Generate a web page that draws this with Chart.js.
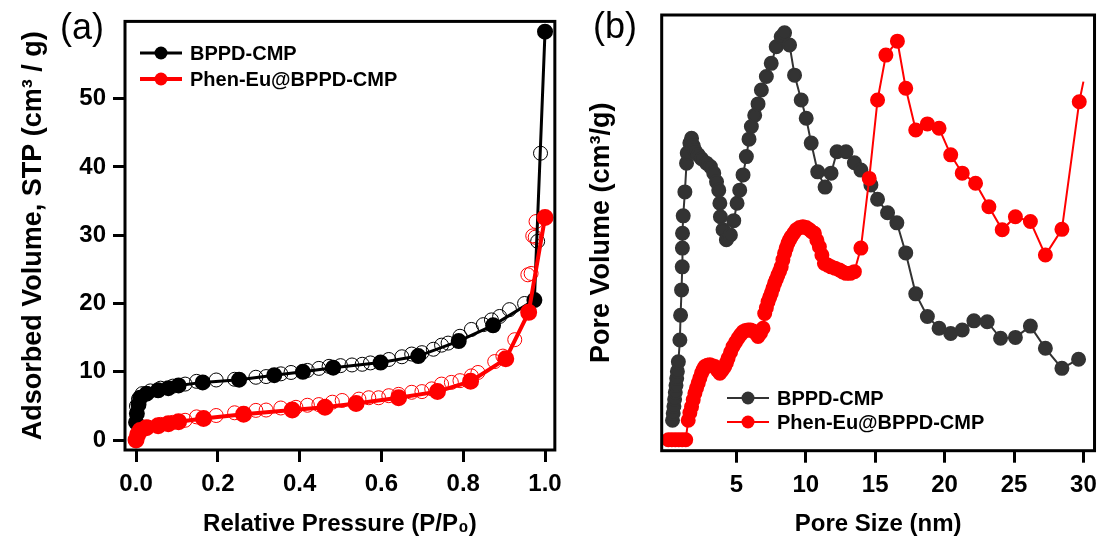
<!DOCTYPE html>
<html lang="en">
<head>
<meta charset="UTF-8">
<title>BPPD-CMP N2 isotherms and pore size distribution</title>
<script src="https://cdn.jsdelivr.net/npm/chart.js@4.4.0/dist/chart.umd.min.js"></script>
<style>
  body { margin: 0; background: #fff; }
  .wrap { position: relative; width: 1105px; height: 552px; }
  #chartA { position: absolute; left: 0; top: 0; }
  #chartB { position: absolute; left: 570px; top: 0; }
</style>
</head>
<body>
<div class="wrap">
  <canvas id="chartA" width="570" height="552"></canvas>
  <canvas id="chartB" width="535" height="552"></canvas>
</div>
<script>
// ---- panel (a): N2 sorption isotherms ----
const pressureTicks = [0, 0.2, 0.4, 0.6, 0.8, 1.0];
const volumeTicks = [0, 10, 20, 30, 40, 50];

// adsorption branch (filled)
const bppdAdsX = [0.0, 0.002, 0.006, 0.010, 0.026, 0.054, 0.079, 0.104, 0.163, 0.252, 0.338, 0.408, 0.482, 0.598, 0.690, 0.789, 0.873, 0.974, 1.0];
const bppdAdsY = [2.6, 3.9, 5.2, 6.2, 6.8, 7.3, 7.6, 8.0, 8.45, 8.85, 9.5, 10.0, 10.6, 11.35, 12.3, 14.5, 16.8, 20.5, 59.8];
const phenAdsX = [0.0, 0.004, 0.010, 0.025, 0.054, 0.079, 0.104, 0.165, 0.263, 0.382, 0.462, 0.538, 0.642, 0.737, 0.818, 0.904, 0.960, 1.0];
const phenAdsY = [0.0, 0.8, 1.4, 1.8, 2.1, 2.4, 2.7, 3.15, 3.8, 4.4, 4.8, 5.35, 6.2, 7.1, 8.6, 11.9, 18.7, 32.6];

// desorption branch (open circles)
const bppdDesX = [0.001, 0.006, 0.015, 0.035, 0.06, 0.09, 0.12, 0.148, 0.196, 0.241, 0.293, 0.318, 0.354, 0.379, 0.419, 0.447, 0.472, 0.500, 0.528, 0.553, 0.573, 0.618, 0.650, 0.674, 0.699, 0.727, 0.747, 0.763, 0.792, 0.820, 0.849, 0.869, 0.889, 0.913, 0.950, 0.982, 0.989];
const bppdDesY = [5.0, 6.0, 6.8, 7.2, 7.6, 7.9, 8.2, 8.6, 8.8, 8.9, 9.2, 9.3, 9.7, 9.9, 10.2, 10.5, 10.8, 10.9, 11.0, 11.1, 11.3, 11.8, 12.2, 12.6, 12.8, 13.3, 13.9, 14.2, 15.2, 16.2, 16.9, 17.6, 18.1, 19.1, 20.0, 29.1, 42.0];
const phenDesX = [0.001, 0.01, 0.03, 0.06, 0.09, 0.12, 0.148, 0.196, 0.241, 0.293, 0.318, 0.354, 0.391, 0.419, 0.447, 0.480, 0.504, 0.545, 0.569, 0.593, 0.618, 0.642, 0.674, 0.699, 0.723, 0.747, 0.771, 0.792, 0.820, 0.836, 0.877, 0.897, 0.926, 0.958, 0.966, 0.970, 0.976, 0.978];
const phenDesY = [0.3, 1.3, 1.9, 2.3, 2.6, 2.9, 3.4, 3.6, 4.0, 4.35, 4.4, 4.7, 4.8, 5.1, 5.2, 5.55, 5.8, 6.0, 6.2, 6.2, 6.5, 6.7, 7.0, 7.1, 7.5, 8.2, 8.45, 8.7, 9.4, 9.9, 11.5, 12.3, 14.7, 24.2, 24.4, 29.9, 29.7, 32.0];

// ---- panel (b): pore size distribution (arbitrary units) ----
const sizeTicks = [5, 10, 15, 20, 25, 30];
const bppdPoreX = [0.40, 0.45, 0.50, 0.55, 0.60, 0.65, 0.70, 0.75, 0.82, 0.93, 0.98, 1.05, 1.10, 1.11, 1.12, 1.17, 1.29, 1.41, 1.46, 1.65, 1.77, 1.89, 2.01, 2.25, 2.49, 2.85, 3.13, 3.37, 3.57, 3.73, 3.81, 3.85, 4.04, 4.28, 4.57, 4.81, 5.05, 5.24, 5.48, 5.72, 5.91, 6.08, 6.32, 6.56, 6.80, 7.16, 7.51, 7.87, 8.23, 8.47, 8.83, 9.19, 9.67, 10.03, 10.39, 10.86, 11.39, 11.82, 12.25, 12.90, 13.50, 13.97, 14.69, 15.17, 15.89, 16.56, 17.20, 17.92, 18.76, 19.60, 20.44, 21.27, 22.11, 23.07, 24.03, 25.10, 26.18, 27.26, 28.45, 29.65];
const bppdPoreY = [7.0, 8.6, 10.2, 11.8, 13.4, 15.0, 16.6, 18.2, 20.4, 25.4, 31.1, 36.9, 42.2, 46.5, 49.9, 53.9, 59.4, 66.0, 68.3, 70.6, 71.7, 70.0, 68.9, 67.9, 67.0, 66.0, 65.2, 63.7, 61.7, 59.8, 56.8, 53.7, 50.7, 48.4, 49.5, 52.8, 56.8, 59.8, 63.3, 67.5, 71.5, 74.4, 77.0, 79.6, 82.8, 85.9, 88.9, 92.7, 95.0, 95.9, 93.1, 86.2, 80.5, 76.3, 70.6, 64.0, 60.5, 63.7, 68.6, 68.6, 66.1, 64.4, 61.0, 57.7, 54.6, 52.3, 45.4, 36.0, 30.8, 28.1, 26.9, 27.7, 29.8, 29.6, 25.8, 26.0, 28.6, 23.5, 18.9, 21.0];
const phenPoreX = [0.10, 0.35, 0.60, 0.85, 1.10, 1.35, 1.53, 1.65, 1.77, 1.89, 2.01, 2.13, 2.25, 2.37, 2.49, 2.61, 2.73, 2.91, 3.09, 3.27, 3.45, 3.63, 3.81, 3.98, 4.16, 4.28, 4.40, 4.58, 4.76, 4.94, 5.12, 5.30, 5.48, 5.66, 5.84, 6.02, 6.20, 6.38, 6.56, 6.74, 6.92, 7.04, 7.16, 7.28, 7.40, 7.51, 7.63, 7.75, 7.87, 7.99, 8.11, 8.23, 8.35, 8.47, 8.59, 8.71, 8.83, 8.95, 9.13, 9.31, 9.55, 9.79, 10.03, 10.27, 10.45, 10.62, 10.80, 10.98, 11.16, 11.34, 11.58, 11.82, 12.10, 12.42, 12.66, 12.90, 13.20, 13.50, 13.97, 14.57, 15.17, 15.77, 16.60, 17.20, 17.92, 18.76, 19.60, 20.44, 21.27, 22.23, 23.19, 24.15, 25.10, 26.18, 27.26, 28.45, 29.70, 30.00];
const phenPoreY = [2.5, 2.5, 2.5, 2.5, 2.5, 2.5, 7.0, 8.7, 10.1, 11.7, 13.2, 14.4, 15.5, 16.7, 17.8, 18.6, 19.3, 19.6, 19.7, 19.5, 19.3, 18.5, 17.8, 18.5, 19.3, 20.2, 21.2, 22.6, 23.9, 24.9, 25.8, 26.6, 27.3, 27.6, 27.7, 27.7, 27.5, 27.0, 26.2, 27.0, 28.1, 31.5, 32.8, 34.2, 35.2, 36.1, 37.3, 38.4, 39.3, 40.3, 41.2, 42.2, 43.8, 45.3, 46.5, 47.6, 48.4, 49.1, 49.9, 50.7, 51.2, 51.4, 51.2, 50.7, 50.2, 49.9, 48.3, 46.8, 44.9, 43.0, 42.6, 42.2, 41.9, 41.5, 41.0, 40.7, 40.7, 41.1, 46.5, 62.5, 80.5, 90.8, 94.0, 83.2, 73.6, 75.0, 74.0, 67.9, 63.7, 61.4, 56.0, 50.7, 53.7, 52.6, 44.9, 50.8, 80.1, 84.7];

const FONT = "'Liberation Sans', Arial, sans-serif";
const RED = '#ff0000';
const DARK = '#333333';

function zip(xs, ys) {
  return xs.map((x, i) => ({ x: x, y: ys[i] }));
}

// frame, panel letter and in-plot legend
const decor = {
  id: 'decor',
  afterDraw(chart, args, opts) {
    const ctx = chart.ctx;
    const a = chart.chartArea;
    ctx.save();
    ctx.strokeStyle = '#000';
    ctx.lineWidth = 3;
    ctx.strokeRect(a.left, a.top, a.right - a.left, a.bottom - a.top);

    ctx.fillStyle = '#000';
    ctx.font = '36px ' + FONT;
    ctx.textAlign = 'center';
    ctx.textBaseline = 'middle';
    ctx.fillText(opts.letter, opts.letterX, opts.letterY);

    ctx.textAlign = 'left';
    ctx.font = 'bold 20px ' + FONT;
    opts.items.forEach((idx, i) => {
      const ds = chart.data.datasets[idx];
      const y = opts.top + i * opts.gap;
      ctx.strokeStyle = ds.borderColor;
      ctx.lineWidth = ds.borderWidth;
      ctx.beginPath();
      ctx.moveTo(opts.left, y);
      ctx.lineTo(opts.left + 42, y);
      ctx.stroke();
      ctx.fillStyle = ds.borderColor;
      ctx.beginPath();
      ctx.arc(opts.left + 21, y, 6.5, 0, Math.PI * 2);
      ctx.fill();
      ctx.fillStyle = '#000';
      ctx.fillText(ds.label, opts.left + 50, y + 1);
    });
    ctx.restore();
  }
};

function xAxis(min, max, tickList, fmt, title, height) {
  return {
    type: 'linear',
    min: min,
    max: max,
    afterBuildTicks: s => { s.ticks = tickList.map(v => ({ value: v })); },
    afterFit: s => { s.height = height; },
    border: { display: false },
    grid: { drawOnChartArea: false, drawTicks: true, tickLength: 12, tickWidth: 3, tickColor: '#000' },
    ticks: { color: '#000', padding: 8, maxRotation: 0, autoSkip: false, font: { family: FONT, size: 24, weight: 'bold' }, callback: fmt },
    title: { display: true, text: title, color: '#000', font: { family: FONT, size: 24, weight: 'bold' }, padding: { top: 0, bottom: 13 } }
  };
}

const common = {
  responsive: false,
  animation: false,
  events: [],
  plugins: { legend: { display: false }, tooltip: { enabled: false } }
};

new Chart(document.getElementById('chartA'), {
  type: 'line',
  data: {
    datasets: [
      { label: 'Phen-Eu@BPPD-CMP', data: zip(phenAdsX, phenAdsY), borderColor: RED, borderWidth: 4, pointRadius: 6.5, pointBackgroundColor: RED, pointBorderColor: RED, tension: 0 },
      { label: 'BPPD-CMP', data: zip(bppdAdsX, bppdAdsY), borderColor: '#000', borderWidth: 3, pointRadius: 6.5, pointBackgroundColor: '#000', pointBorderColor: '#000', tension: 0 },
      { label: 'Phen-Eu@BPPD-CMP desorption', data: zip(phenDesX, phenDesY), showLine: false, pointRadius: 7, pointBackgroundColor: 'rgba(0,0,0,0)', pointBorderColor: RED, pointBorderWidth: 1 },
      { label: 'BPPD-CMP desorption', data: zip(bppdDesX, bppdDesY), showLine: false, pointRadius: 7, pointBackgroundColor: 'rgba(0,0,0,0)', pointBorderColor: '#000', pointBorderWidth: 1 }
    ]
  },
  options: Object.assign({}, common, {
    layout: { padding: { left: 0, top: 17, right: 13, bottom: 0 } },
    scales: {
      x: xAxis(-0.027, 1.024, pressureTicks, v => v.toFixed(1), 'Relative Pressure (P/P\u2080)', 102),
      y: {
        type: 'linear',
        min: -1.45,
        max: 61.3,
        afterBuildTicks: s => { s.ticks = volumeTicks.map(v => ({ value: v })); },
        afterFit: s => { s.width = 125; },
        border: { display: false },
        grid: { drawOnChartArea: false, drawTicks: true, tickLength: 12, tickWidth: 3, tickColor: '#000' },
        ticks: { color: '#000', padding: 7, font: { family: FONT, size: 24, weight: 'bold' } },
        title: { display: true, text: 'Adsorbed Volume, STP (cm\u00b3 / g)', color: '#000', font: { family: FONT, size: 27, weight: 'bold' }, padding: { top: 17, bottom: 0 } }
      }
    },
    plugins: Object.assign({}, common.plugins, {
      decor: { letter: '(a)', letterX: 82, letterY: 29, items: [1, 0], left: 140, top: 53, gap: 26 }
    })
  }),
  plugins: [decor]
});

const lastRed = phenPoreX.length - 1;

new Chart(document.getElementById('chartB'), {
  type: 'line',
  data: {
    datasets: [
      { label: 'Phen-Eu@BPPD-CMP', data: zip(phenPoreX, phenPoreY), borderColor: RED, borderWidth: 2, pointRadius: c => (c.dataIndex === lastRed ? 0 : 6.5), pointBackgroundColor: RED, pointBorderColor: RED, tension: 0 },
      { label: 'BPPD-CMP', data: zip(bppdPoreX, bppdPoreY), borderColor: DARK, borderWidth: 2, pointRadius: 6.5, pointBackgroundColor: DARK, pointBorderColor: DARK, tension: 0 }
    ]
  },
  options: Object.assign({}, common, {
    layout: { padding: { left: 0, top: 15, right: 9, bottom: 0 } },
    scales: {
      x: xAxis(-0.38, 30.8, sizeTicks, v => String(v), 'Pore Size (nm)', 101.3),
      y: {
        type: 'linear',
        min: 0,
        max: 100,
        afterFit: s => { s.width = 91.7; },
        border: { display: false },
        grid: { display: false },
        ticks: { display: false },
        title: { display: true, text: 'Pore Volume (cm\u00b3/g)', color: '#000', font: { family: FONT, size: 27, weight: 'bold' }, padding: { top: 15, bottom: 0 } }
      }
    },
    plugins: Object.assign({}, common.plugins, {
      decor: { letter: '(b)', letterX: 45, letterY: 28, items: [1, 0], left: 157, top: 398, gap: 24 }
    })
  }),
  plugins: [decor]
});
</script>
</body>
</html>
